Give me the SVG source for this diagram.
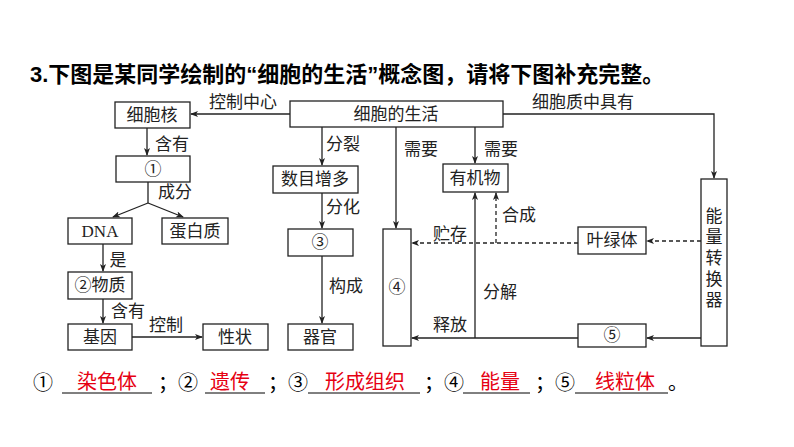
<svg xmlns="http://www.w3.org/2000/svg" width="794" height="447" viewBox="0 0 794 447">
<style>
.b{fill:#fff;stroke:#222;stroke-width:1.3}
.t{font-family:"Liberation Serif","Noto Sans CJK SC",serif;font-size:17px;fill:#222}
.c{text-anchor:middle}
.l{stroke:#222;stroke-width:1.3;fill:none;marker-end:url(#a)}
.d{stroke-dasharray:4 3}
.h{font-family:"Liberation Sans","Noto Sans CJK SC",sans-serif;font-size:20px;fill:#000}
.r{fill:#e60012}
.u{stroke:#000;stroke-width:1}
</style>
<defs><marker id="a" markerWidth="8" markerHeight="8" refX="7" refY="4" orient="auto" markerUnits="userSpaceOnUse"><path d="M0,1 L8,4 L0,7 L2,4z" fill="#222"/></marker></defs>
<rect width="794" height="447" fill="#fff"/>
<text class="h" x="30" y="82" font-weight="bold" style="font-size:22px">3.下图是某同学绘制的“细胞的生活”概念图，请将下图补充完整。</text>
<g id="connectors">
<path class="l" d="M290,114H191"/>
<path class="l" d="M147,128V155"/>
<path d="M148,182V203" stroke="#222" stroke-width="1.3"/>
<path class="l" d="M148,203L113,217"/>
<path class="l" d="M148,203L183,217"/>
<path class="l" d="M103,244V271"/>
<path class="l" d="M103,299V323"/>
<path class="l" d="M132,337H202"/>
<path class="l" d="M322,127V165"/>
<path class="l" d="M322,193V228"/>
<path class="l" d="M322,256V323"/>
<path class="l" d="M396,127V228"/>
<path class="l" d="M475,127V163"/>
<path class="l" d="M503,114H714V178"/>
<path class="l d" d="M701,241H647"/>
<path class="l d" d="M578,243H412"/>
<path class="l d" d="M496,243V193"/>
<path class="l" d="M701,338H647"/>
<path class="l" d="M578,338H412"/>
<path class="l" d="M475,338V193"/>
</g>
<g class="t">
<text x="243" y="108" class="c">控制中心</text>
<text x="172" y="150" class="c">含有</text>
<text x="175" y="198" class="c">成分</text>
<text x="118" y="266" class="c">是</text>
<text x="128" y="317" class="c">含有</text>
<text x="166" y="331" class="c">控制</text>
<text x="343" y="150" class="c">分裂</text>
<text x="343" y="213" class="c">分化</text>
<text x="346" y="292" class="c">构成</text>
<text x="421" y="155" class="c">需要</text>
<text x="501" y="155" class="c">需要</text>
<text x="583" y="108" class="c">细胞质中具有</text>
<text x="450" y="240" class="c">贮存</text>
<text x="519" y="221" class="c">合成</text>
<text x="500" y="298" class="c">分解</text>
<text x="450" y="331" class="c">释放</text>
</g>
<g id="n1"><rect class="b" x="290" y="101" width="213" height="26"/><text class="t c" x="396" y="120">细胞的生活</text></g>
<g id="n2"><rect class="b" x="115" y="102" width="75" height="26"/><text class="t c" x="152" y="121">细胞核</text></g>
<g id="n3"><rect class="b" x="116" y="156" width="74" height="26"/><text class="t c" x="153" y="175">①</text></g>
<g id="n4"><rect class="b" x="68" y="218" width="64" height="26"/><text class="t c" x="100" y="237">DNA</text></g>
<g id="n5"><rect class="b" x="162" y="218" width="66" height="26"/><text class="t c" x="195" y="237">蛋白质</text></g>
<g id="n6"><rect class="b" x="68" y="272" width="64" height="27"/><text class="t c" x="100" y="291">②物质</text></g>
<g id="n7"><rect class="b" x="68" y="324" width="64" height="26"/><text class="t c" x="100" y="343">基因</text></g>
<g id="n8"><rect class="b" x="203" y="324" width="65" height="26"/><text class="t c" x="235" y="343">性状</text></g>
<g id="n9"><rect class="b" x="273" y="166" width="85" height="27"/><text class="t c" x="315" y="185">数目增多</text></g>
<g id="n10"><rect class="b" x="288" y="229" width="65" height="27"/><text class="t c" x="320" y="248">③</text></g>
<g id="n11"><rect class="b" x="288" y="324" width="65" height="26"/><text class="t c" x="320" y="343">器官</text></g>
<g id="n12"><rect class="b" x="383" y="229" width="28" height="117"/><text class="t c" x="397" y="293">④</text></g>
<g id="n13"><rect class="b" x="443" y="164" width="65" height="28"/><text class="t c" x="475" y="184">有机物</text></g>
<g id="n14"><rect class="b" x="578" y="227" width="68" height="27"/><text class="t c" x="612" y="246">叶绿体</text></g>
<g id="n15"><rect class="b" x="578" y="324" width="68" height="23"/><text class="t c" x="612" y="341">⑤</text></g>
<g id="n16"><rect class="b" x="701" y="179" width="26" height="167"/><text class="t c" x="714" y="222">能</text><text class="t c" x="714" y="243">量</text><text class="t c" x="714" y="264">转</text><text class="t c" x="714" y="285">换</text><text class="t c" x="714" y="306">器</text></g>
<g id="answers">
<text class="h" x="33" y="390">①</text>
<path class="u" d="M62,393H152M205,393H265M308,393H420M463,393H530M575,393H668"/>
<text class="h r" x="107" y="389" text-anchor="middle">染色体</text>
<text class="h" x="158" y="390">；②</text>
<text class="h r" x="230" y="389" text-anchor="middle">遗传</text>
<text class="h" x="268" y="390">；③</text>
<text class="h r" x="365" y="389" text-anchor="middle">形成组织</text>
<text class="h" x="424" y="390">；④</text>
<text class="h r" x="500" y="389" text-anchor="middle">能量</text>
<text class="h" x="535" y="390">；⑤</text>
<text class="h r" x="625" y="389" text-anchor="middle">线粒体</text>
<text class="h" x="668" y="390">。</text>
</g>
</svg>
